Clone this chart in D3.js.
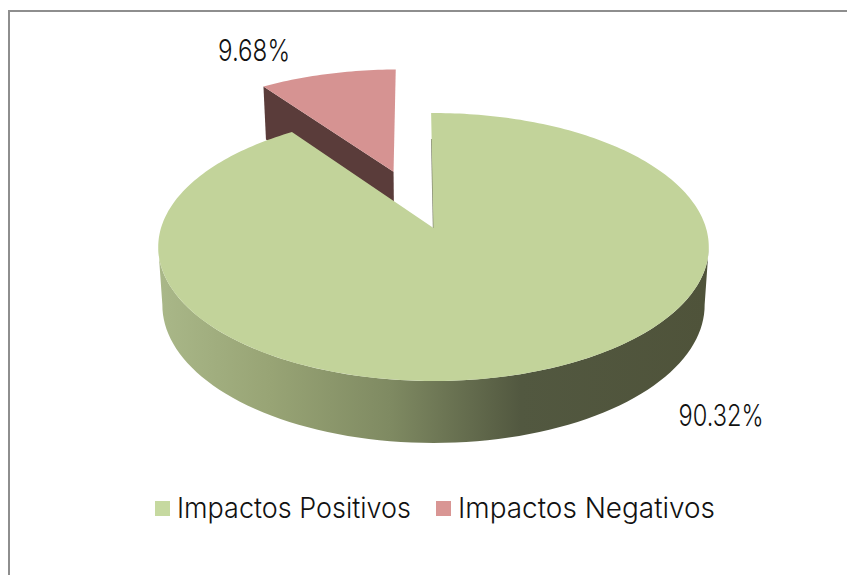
<!DOCTYPE html>
<html>
<head>
<meta charset="utf-8">
<script src="https://cdn.jsdelivr.net/npm/d3@7"></script>
<style>
html,body{margin:0;padding:0;background:#fff;}
svg{display:block;}
text{font-family:"Inter","Lato","Open Sans",sans-serif;font-weight:300;fill:#111;}
</style>
</head>
<body>
<div id="chart"></div>
<script>
const categories = ["Impactos Positivos", "Impactos Negativos"];
const values = [90.32, 9.68];
const valueLabels = ["90.32%", "9.68%"];
const topColors = ["#c2d39a", "#d69392"];
const legendColors = ["#c6d9a0", "#d99694"];
const wallColor = "#5a3c3a";
const sideStops = [[0, "#a9b788"], [0.2, "#98a475"], [0.42, "#7f8a62"], [0.66, "#525840"], [1, "#4f533a"]];

const W = 847, H = 575;
const svg = d3.select("#chart").append("svg").attr("width", W).attr("height", H);

// perspective projection of the pie disc
const cx = 433.5, apexY = 228, radius = 272.5, tilt = 131.3, persp = 0.1418;
const explode = 0.48, depth = 57.4, shrink = 0.985, explodedNudge = -2, startRot = -0.01;

function project(u, v) {
  const w = 1 + persp * v;
  return [cx + radius * u / w, apexY - tilt * v / w, w];
}
function topPt(u, v) { const p = project(u, v); return [p[0], p[1]]; }
function bottomPt(u, v) {
  const p = project(u, v);
  return [cx + (p[0] - cx) * shrink, p[1] + depth / Math.sqrt(p[2])];
}
const pathLine = d3.line();

const arcs = d3.pie().sort(null).startAngle(startRot).endAngle(2 * Math.PI + startRot)(values);

function slicePts(a, off, fn) {
  const mid = (a.startAngle + a.endAngle) / 2;
  const ox = off * Math.sin(mid), oy = off * Math.cos(mid);
  const n = Math.ceil((a.endAngle - a.startAngle) / 0.02);
  const pts = [fn(ox, oy)];
  d3.range(n + 1).forEach(i => {
    const t = a.startAngle + (a.endAngle - a.startAngle) * i / n;
    pts.push(fn(ox + Math.sin(t), oy + Math.cos(t)));
  });
  return pts;
}

// side gradient
const defs = svg.append("defs");
const grad = defs.append("linearGradient").attr("id", "side")
  .attr("gradientUnits", "userSpaceOnUse")
  .attr("x1", cx - radius).attr("x2", cx + radius).attr("y1", 0).attr("y2", 0);
sideStops.forEach(s => grad.append("stop").attr("offset", s[0]).attr("stop-color", s[1]));

// chart border (top and left edges only)
const border = svg.append("g").attr("stroke", "#8e8e8e").attr("stroke-width", 2);
border.append("line").attr("x1", 9).attr("x2", W).attr("y1", 11).attr("y2", 11);
border.append("line").attr("x1", 9).attr("x2", 9).attr("y1", 10).attr("y2", H);

const pieG = svg.append("g");

// near side of the main slice, closed between the silhouette points of both rims
const sideAngles = d3.range(98, 263, 2).map(d => d * Math.PI / 180);
const sideTop = sideAngles.map(t => topPt(Math.sin(t), Math.cos(t)));
const sideBot = sideAngles.map(t => bottomPt(Math.sin(t), Math.cos(t))).reverse();
pieG.append("path").attr("d", pathLine(sideTop.concat(sideBot)) + "Z").attr("fill", "url(#side)");

// exploded slice: radial wall, then top
const neg = arcs[1];
const negMid = (neg.startAngle + neg.endAngle) / 2;
const ox = explode * Math.sin(negMid), oy = explode * Math.cos(negMid);
const su = ox + Math.sin(neg.startAngle), sv = oy + Math.cos(neg.startAngle);
const negG = pieG.append("g").attr("transform", `translate(${explodedNudge},0)`);
negG.append("path")
  .attr("d", pathLine([topPt(ox, oy), topPt(su, sv), bottomPt(su, sv), bottomPt(ox, oy)]) + "Z")
  .attr("fill", wallColor);
negG.append("path").attr("d", pathLine(slicePts(neg, explode, topPt)) + "Z").attr("fill", topColors[1]);

// main slice: thin inner wall edge, then top
pieG.append("line")
  .attr("x1", topPt(0, 0)[0]).attr("y1", topPt(0, 0)[1])
  .attr("x2", topPt(Math.sin(startRot) * 0.75, 0.75)[0]).attr("y2", topPt(0, 0.75)[1])
  .attr("stroke", "#5d6345").attr("stroke-width", 1.4).attr("stroke-opacity", 0.75);
pieG.append("path").attr("d", pathLine(slicePts(arcs[0], 0, topPt)) + "Z").attr("fill", topColors[0]);

// data labels
const labelPos = [[721, 426], [254, 61]];
const labelLen = [85, 72];
svg.selectAll("text.val").data(valueLabels).join("text")
  .attr("class", "val")
  .attr("x", (d, i) => labelPos[i][0]).attr("y", (d, i) => labelPos[i][1])
  .attr("text-anchor", "middle").attr("font-size", 30)
  .attr("textLength", (d, i) => labelLen[i]).attr("lengthAdjust", "spacingAndGlyphs")
  .text(d => d);

// legend
const legendX = [155, 436], legendLen = [234, 257];
const lg = svg.selectAll("g.lg").data(categories).join("g").attr("class", "lg")
  .attr("transform", (d, i) => `translate(${legendX[i]},501)`);
lg.append("rect").attr("width", 15).attr("height", 15).attr("fill", (d, i) => legendColors[i]);
lg.append("text").attr("x", 22).attr("y", 17).attr("font-size", 28)
  .attr("textLength", (d, i) => legendLen[i]).attr("lengthAdjust", "spacingAndGlyphs")
  .text(d => d);
</script>
</body>
</html>
